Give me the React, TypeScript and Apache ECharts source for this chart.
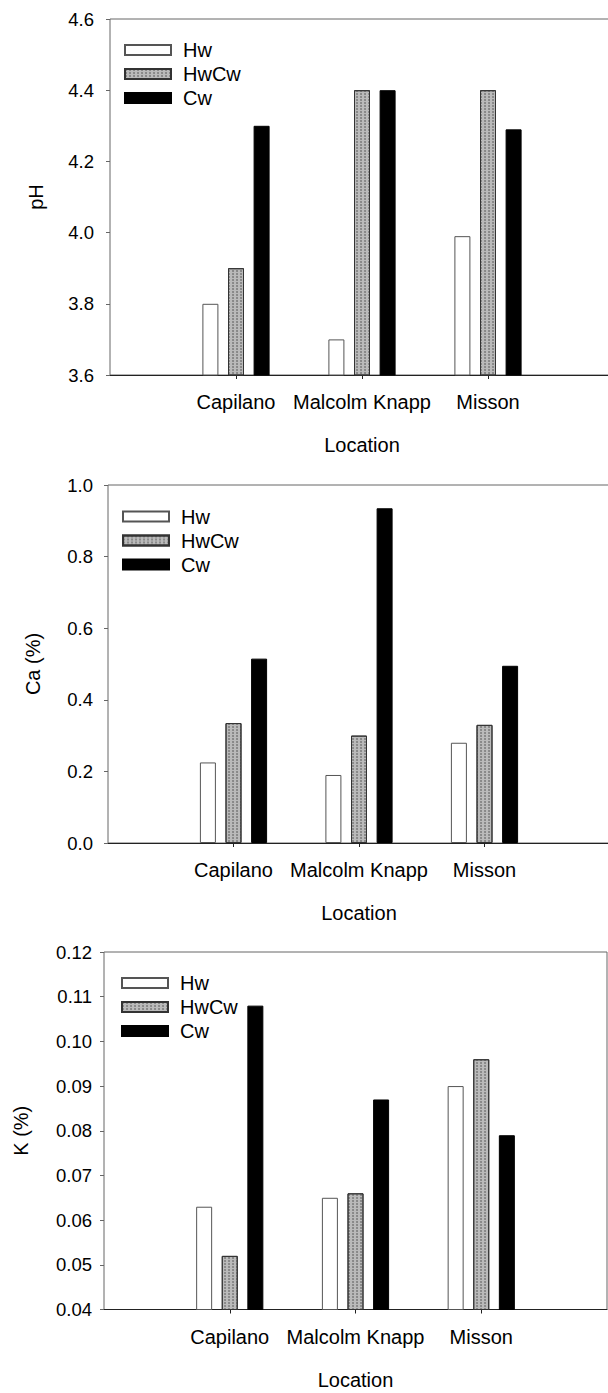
import React, { useEffect, useRef } from "react";
import * as echarts from "echarts";

const categories = ["Capilano", "Malcolm Knapp", "Misson"];
const seriesNames = ["Hw", "HwCw", "Cw"];

const phHw = [3.8, 3.7, 3.99];
const phHwCw = [3.9, 4.4, 4.4];
const phCw = [4.3, 4.4, 4.29];

const caHw = [0.225, 0.19, 0.28];
const caHwCw = [0.335, 0.3, 0.33];
const caCw = [0.515, 0.935, 0.495];

const kHw = [0.063, 0.065, 0.09];
const kHwCw = [0.052, 0.066, 0.096];
const kCw = [0.108, 0.087, 0.079];

const xName = "Location";
const yNames = ["pH", "Ca (%)", "K (%)"];

const FONT = "'Liberation Sans', Arial, sans-serif";

const panels = [
  { top: 19, height: 356, left: 110, width: 504, min: 3.6, max: 4.6, interval: 0.2, dec: 1, nameGap: 64, labelMargin: 16, legLeft: 119, legTop: 35, data: [phHw, phHwCw, phCw] },
  { top: 485, height: 358, left: 108, width: 502, min: 0, max: 1.0, interval: 0.2, dec: 1, nameGap: 65, labelMargin: 15, legLeft: 117, legTop: 501.5, data: [caHw, caHwCw, caCw] },
  { top: 952, height: 357.5, left: 104, width: 503, min: 0.04, max: 0.12, interval: 0.01, dec: 2, nameGap: 73, labelMargin: 12, legLeft: 116, legTop: 968, data: [kHw, kHwCw, kCw] },
];

const styles = [
  { color: "#ffffff", borderColor: "#555", borderWidth: 1 },
  {
    color: "#bababa",
    borderColor: "#333",
    borderWidth: 1,
    decal: {
      symbol: "circle",
      symbolSize: 0.8,
      color: "rgba(60,60,60,0.6)",
      dashArrayX: [[2, 2]],
      dashArrayY: [2, 1],
    },
  },
  { color: "#000000", borderColor: "#000", borderWidth: 1 },
];

export default function App() {
  const ref = useRef<HTMLDivElement>(null);
  useEffect(() => {
    if (!ref.current) return;
    const chart = echarts.init(ref.current, null, { renderer: "svg" });
    const padded = ["", ...categories, ""];
    const option: any = {
      animation: false,
      backgroundColor: "#ffffff",
      textStyle: { fontFamily: FONT },
      grid: panels.map((p) => ({
        left: p.left,
        top: p.top,
        width: p.width,
        height: p.height,
        show: true,
        borderColor: "#666",
        borderWidth: 1,
        containLabel: false,
        outerBoundsMode: "none",
      })),
      legend: panels.map((p) => ({
        orient: "vertical",
        left: p.legLeft,
        top: p.legTop,
        itemWidth: 46,
        itemHeight: 10,
        itemGap: 4,
        icon: "rect",
        selectedMode: false,
        data: seriesNames,
        textStyle: { fontSize: 20, color: "#000", fontFamily: FONT, padding: [0, 0, 0, 7] },
      })),
      xAxis: panels.map((p, i) => ({
        type: "category",
        gridIndex: i,
        data: padded,
        boundaryGap: false,
        axisLine: { show: true, lineStyle: { color: "#222", width: 1 } },
        axisTick: {
          show: true,
          length: 4,
          interval: (idx: number) => idx >= 1 && idx <= categories.length,
          lineStyle: { color: "#222" },
        },
        axisLabel: { interval: 0, fontSize: 20, color: "#000", margin: 17, fontFamily: FONT },
        splitLine: { show: false },
        name: xName,
        nameLocation: "middle",
        nameGap: 60,
        nameTextStyle: { fontSize: 20, color: "#000", fontFamily: FONT },
      })),
      yAxis: panels.map((p, i) => ({
        type: "value",
        gridIndex: i,
        min: p.min,
        max: p.max,
        interval: p.interval,
        axisLine: { show: false },
        axisTick: { show: true, length: 4, lineStyle: { color: "#666" } },
        splitLine: { show: false },
        axisLabel: {
          fontSize: 18.5,
          color: "#000",
          margin: p.labelMargin,
          fontFamily: FONT,
          formatter: (v: number) => v.toFixed(p.dec),
        },
        name: yNames[i],
        nameLocation: "middle",
        nameGap: p.nameGap,
        nameRotate: 90,
        nameTextStyle: { fontSize: 20, color: "#000", fontFamily: FONT },
      })),
      series: panels.flatMap((p, i) =>
        seriesNames.map((n, j) => ({
          type: "bar",
          name: n,
          xAxisIndex: i,
          yAxisIndex: i,
          barWidth: 16,
          barGap: "60%",
          clip: true,
          itemStyle: styles[j],
          data: [null, ...p.data[j], null],
        }))
      ),
    };
    chart.setOption(option);
    return () => chart.dispose();
  }, []);
  return (
    <div
      ref={ref}
      style={{ position: "absolute", left: 0, top: 0, width: 608, height: 1393 }}
    />
  );
}
